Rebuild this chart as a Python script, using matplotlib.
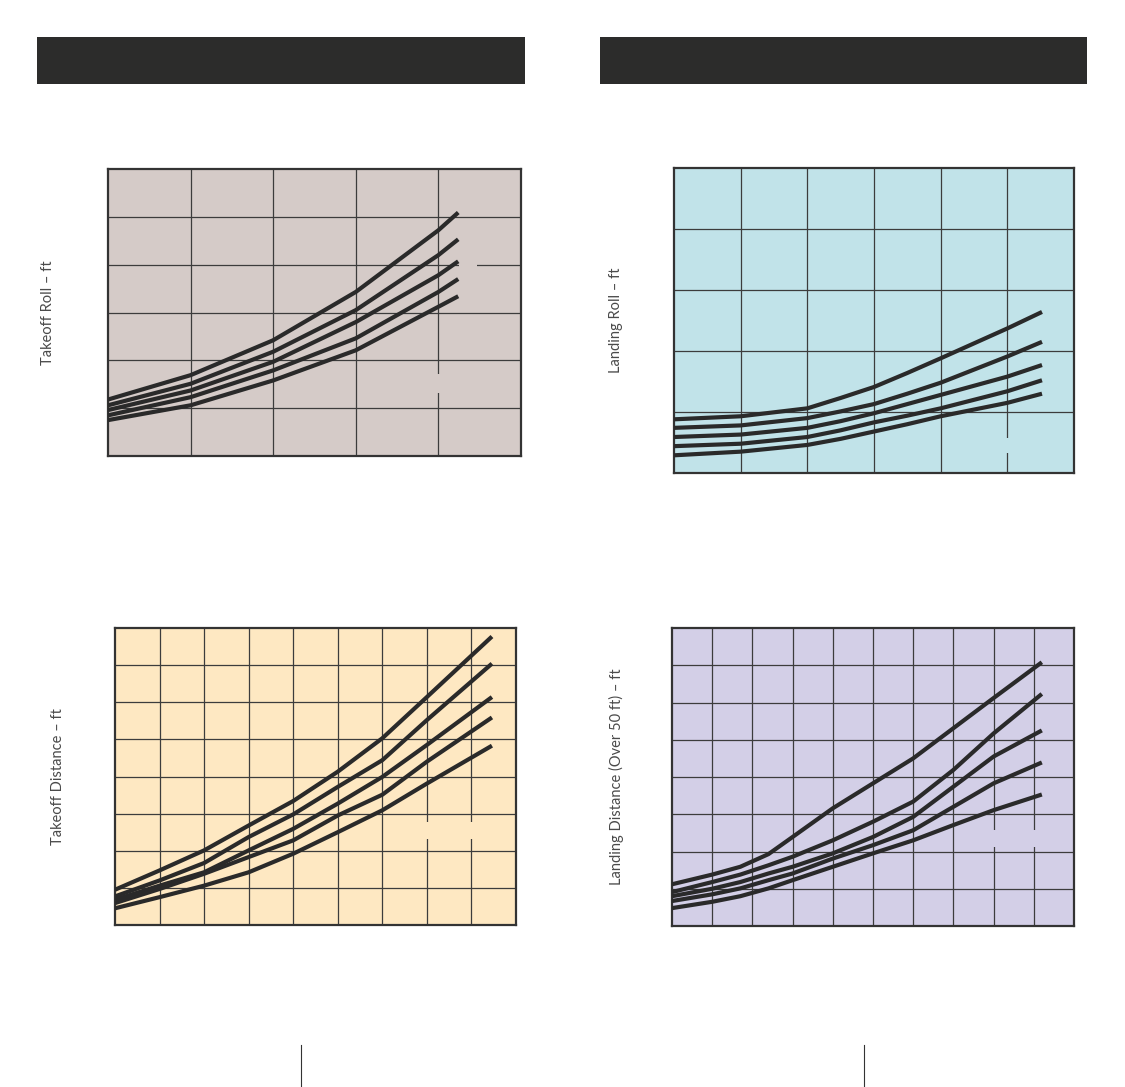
import matplotlib
matplotlib.use("Agg")
import matplotlib.pyplot as plt
from matplotlib.patches import Rectangle

# takeoff roll (5 curves, grid units)
roll_x = [0, 1, 2, 3, 4, 4.24]
roll_curves = [
    [1.18, 1.69, 2.42, 3.43, 4.72, 5.09],
    [1.06, 1.51, 2.18, 3.05, 4.20, 4.53],
    [0.96, 1.37, 1.97, 2.80, 3.78, 4.07],
    [0.85, 1.23, 1.79, 2.46, 3.43, 3.70],
    [0.75, 1.06, 1.58, 2.21, 3.12, 3.34],
]

# landing roll
lroll_x = [0, 1, 2, 2.5, 3, 3.5, 4, 5, 5.52]
lroll_curves = [
    [0.88, 0.93, 1.06, 1.23, 1.41, 1.64, 1.88, 2.37, 2.64],
    [0.74, 0.78, 0.90, 1.01, 1.13, 1.30, 1.48, 1.91, 2.15],
    [0.59, 0.63, 0.74, 0.85, 0.98, 1.13, 1.28, 1.58, 1.77],
    [0.44, 0.48, 0.59, 0.70, 0.83, 0.94, 1.06, 1.34, 1.52],
    [0.29, 0.35, 0.46, 0.56, 0.68, 0.80, 0.93, 1.15, 1.30],
]

# takeoff distance
tdist_x = [0, 1, 2, 3, 4, 5, 6, 7, 8.46]
tdist_curves = [
    [0.95, 1.47, 2.01, 2.68, 3.34, 4.13, 5.03, 6.14, 7.77],
    [0.77, 1.20, 1.67, 2.37, 2.98, 3.72, 4.44, 5.52, 7.04],
    [0.68, 1.06, 1.42, 2.01, 2.59, 3.27, 3.99, 4.85, 6.14],
    [0.59, 0.97, 1.38, 1.83, 2.28, 2.95, 3.51, 4.40, 5.59],
    [0.45, 0.75, 1.06, 1.42, 1.92, 2.50, 3.09, 3.81, 4.83],
]

# landing distance (over 50 ft)
ldist_x = [0, 1, 1.7, 2.4, 3, 4, 5, 6, 7, 8, 9.2]
ldist_curves = [
    [1.12, 1.38, 1.59, 1.93, 2.39, 3.16, 3.83, 4.50, 5.31, 6.12, 7.08],
    [0.91, 1.18, 1.38, 1.63, 1.86, 2.30, 2.80, 3.34, 4.19, 5.17, 6.23],
    [0.80, 1.00, 1.18, 1.41, 1.59, 1.95, 2.39, 2.93, 3.74, 4.55, 5.25],
    [0.67, 0.85, 1.01, 1.23, 1.41, 1.81, 2.17, 2.57, 3.20, 3.83, 4.39],
    [0.48, 0.65, 0.80, 1.01, 1.23, 1.59, 1.95, 2.30, 2.71, 3.11, 3.53],
]

W, H = 1125, 1087
fig = plt.figure(figsize=(W / 100, H / 100), dpi=100)
fig.patch.set_facecolor("white")


def px_rect(left, top, right, bottom):
    return [left / W, 1 - bottom / H, (right - left) / W, (bottom - top) / H]


def draw_panel(rect, xs, curves, ncols, nrows, bg, label, label_x, gaps):
    ax = fig.add_axes(px_rect(*rect))
    ax.set_facecolor(bg)
    ax.set_xlim(0, ncols)
    ax.set_ylim(0, nrows)
    ax.set_xticks(range(1, ncols))
    ax.set_yticks(range(1, nrows))
    ax.tick_params(length=0, labelbottom=False, labelleft=False)
    ax.set_axisbelow(True)
    ax.grid(True, color="#3c3c3c", linewidth=0.9)
    for s in ax.spines.values():
        s.set_color("#333333")
        s.set_linewidth(1.6)
    # little breaks in the grid where labels used to sit
    for gx, gy, gw, gh in gaps:
        ax.add_patch(Rectangle((gx, gy), gw, gh, facecolor=bg, edgecolor="none", zorder=1))
    for ys in curves:
        ax.plot(xs, ys, color="#2a2a2a", linewidth=3.0, solid_joinstyle="round",
                solid_capstyle="butt", zorder=3)
    # y label
    cy = 1 - (rect[1] + rect[3]) / 2 / H
    fig.text(label_x / W, cy, label, rotation=90, ha="center", va="center",
             fontsize=10.5, color="#4a4a4a", family=["Lato", "DejaVu Sans"])
    return ax


draw_panel((108, 169, 521, 456), roll_x, roll_curves, 5, 6, "#d5cbc8",
           "Takeoff Roll – ft", 48,
           [(4.25, 3.9, 0.22, 0.2), (3.95, 1.31, 0.1, 0.40)])
draw_panel((674, 168, 1074, 473), lroll_x, lroll_curves, 6, 5, "#c1e3e9",
           "Landing Roll – ft", 616,
           [(4.95, 0.33, 0.1, 0.24)])
draw_panel((115, 628, 516, 925), tdist_x, tdist_curves, 9, 8, "#fee8c2",
           "Takeoff Distance – ft", 58,
           [(6.95, 2.32, 0.1, 0.45), (7.95, 2.32, 0.1, 0.45)])
draw_panel((672, 628, 1074, 926), ldist_x, ldist_curves, 10, 8, "#d3cfe7",
           "Landing Distance (Over 50 ft) – ft", 616,
           [(7.95, 2.11, 0.1, 0.46), (8.95, 2.11, 0.1, 0.46)])

# dark header bars
for left, right in [(37, 525), (600, 1087)]:
    fig.patches.append(Rectangle((left / W, 1 - 84 / H), (right - left) / W, 47 / H,
                                 transform=fig.transFigure, facecolor="#2c2c2b",
                                 edgecolor="none"))

# thin page rules at bottom
for x in [301, 864]:
    fig.lines.append(plt.Line2D([x / W, x / W], [1 - 1045 / H, 0], transform=fig.transFigure,
                                color="#333333", linewidth=0.8))

fig.savefig("out.png", dpi=100, facecolor="white")
